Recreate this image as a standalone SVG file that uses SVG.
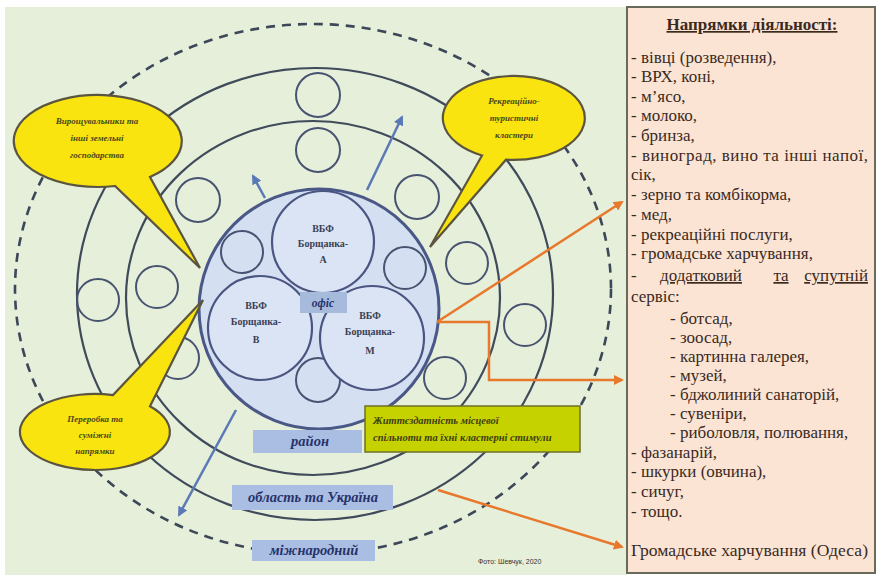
<svg xmlns="http://www.w3.org/2000/svg" width="878" height="579" viewBox="0 0 878 579">
<defs>
<marker id="ab" viewBox="0 0 10 10" refX="8" refY="5" markerWidth="4" markerHeight="4" orient="auto"><path d="M0,0 L10,5 L0,10 z" fill="#5b79b6"/></marker>
<marker id="ao" viewBox="0 0 10 10" refX="8" refY="5" markerWidth="4" markerHeight="4" orient="auto"><path d="M0,0 L10,5 L0,10 z" fill="#e7782c"/></marker>
<style>
.ring{fill:none;stroke:#3f4a5a;stroke-width:2.2}
.dash{fill:none;stroke:#3c4758;stroke-width:2.6;stroke-dasharray:9 7}
.sc{fill:none;stroke:#475370;stroke-width:2}
.ic{fill:#dbe4f4;stroke:#4a5582;stroke-width:2.2}
.call{fill:#f9e410;stroke:#5b5540;stroke-width:2.2}
.ct{font-family:"Liberation Serif",serif;font-style:italic;font-weight:bold;font-size:9px;fill:#4b4a18;text-anchor:middle}
.gt{font-family:"Liberation Serif",serif;font-style:italic;font-weight:bold;font-size:10.5px;fill:#3e4010}
.vt{font-family:"Liberation Serif",serif;font-weight:bold;font-size:10px;fill:#3a3f55;text-anchor:middle}
.lb{fill:#a9bee2}
.lt{font-family:"Liberation Serif",serif;font-style:italic;font-weight:bold;font-size:14.5px;fill:#27326a;text-anchor:middle}
.pt{font-family:"Liberation Serif",serif;font-size:17px;fill:#3a2a1e}
.blue{stroke:#5b79b6;stroke-width:2.5;fill:none;marker-end:url(#ab)}
.or{stroke:#e7782c;stroke-width:2.5;fill:none}
</style>
</defs>
<rect x="0" y="0" width="878" height="579" fill="#ffffff"/>
<rect x="5" y="7" width="622" height="568" fill="#e6efda"/>

<g id="rings">
<ellipse class="dash" cx="313" cy="289" rx="298" ry="265"/>
<ellipse class="ring" cx="315" cy="294" rx="238" ry="226"/>
<ellipse class="ring" cx="313" cy="298" rx="187" ry="177"/>
</g>

<g id="small-circles">
<circle class="sc" cx="318" cy="95" r="22"/>
<circle class="sc" cx="318" cy="150" r="22"/>
<circle class="sc" cx="98" cy="300" r="21"/>
<circle class="sc" cx="525" cy="325" r="21"/>
<circle class="sc" cx="198" cy="200" r="22"/>
<circle class="sc" cx="157" cy="287" r="21"/>
<circle class="sc" cx="178" cy="358" r="21"/>
<circle class="sc" cx="417" cy="197" r="22"/>
<circle class="sc" cx="467" cy="263" r="21"/>
<circle class="sc" cx="445" cy="378" r="21"/>
</g>

<g id="center">
<circle cx="319" cy="309" r="120" fill="#d4dff2" stroke="#4a5888" stroke-width="3"/>
<circle class="sc" cx="242" cy="252" r="21"/>
<circle class="sc" cx="405" cy="268" r="21"/>
<circle class="sc" cx="318" cy="380" r="22"/>
<g id="vbf-a"><circle class="ic" cx="323" cy="242" r="51"/>
<text class="vt" x="323" y="232">ВБФ</text><text class="vt" x="323" y="247">Борщанка-</text><text class="vt" x="323" y="263">А</text></g>
<g id="vbf-b"><circle class="ic" cx="260" cy="328" r="52"/>
<text class="vt" x="256" y="309">ВБФ</text><text class="vt" x="256" y="325">Борщанка-</text><text class="vt" x="256" y="343">В</text></g>
<g id="vbf-m"><circle class="ic" cx="372" cy="338" r="52"/>
<text class="vt" x="370" y="319">ВБФ</text><text class="vt" x="370" y="335">Борщанка-</text><text class="vt" x="370" y="354">М</text></g>
<g id="office"><rect x="300" y="292" width="47" height="21" fill="#a6badc"/>
<text class="lt" x="323" y="307" style="font-size:11.5px">офіс</text></g>
</g>

<g id="connectors">
<line class="blue" x1="265" y1="198" x2="253" y2="176"/>
<line class="blue" x1="367" y1="190" x2="402" y2="117"/>
<line class="blue" x1="236" y1="410" x2="179" y2="515"/>
<line class="or" x1="437" y1="322" x2="622" y2="202" marker-end="url(#ao)"/>
<polyline class="or" points="437,322 489,322 489,380 622,380" marker-end="url(#ao)"/>
<line class="or" x1="438" y1="490" x2="622" y2="547" marker-end="url(#ao)"/>
</g>

<g id="callout-1">
<path class="call" d="M150 177 A84 46 0 1 0 115 186 L200 268 Z"/>
<text class="ct" x="97" y="124">Вирощувальники та</text>
<text class="ct" x="97" y="141">інші земельні</text>
<text class="ct" x="97" y="158">господарства</text>
</g>
<g id="callout-2">
<path class="call" d="M506 159.7 A71 42 0 1 0 482 155.5 L430 247 Z"/>
<text class="ct" x="514" y="104">Рекреаційно-</text>
<text class="ct" x="514" y="121">туристичні</text>
<text class="ct" x="514" y="138">кластери</text>
</g>
<g id="callout-3">
<path class="call" d="M113 395.1 A75 38 0 1 0 150 406.2 L203 300 Z"/>
<text class="ct" x="95" y="422">Переробка та</text>
<text class="ct" x="95" y="438">суміжні</text>
<text class="ct" x="95" y="454">напрямки</text>
</g>

<g id="community">
<rect x="365" y="406" width="215" height="46" fill="#c6d200" stroke="#6d6f2a" stroke-width="1.5"/>
<text class="gt" x="373" y="424">Життєздатність місцевої</text>
<text class="gt" x="373" y="441">спільноти та їхні кластерні стимули</text>
</g>

<g id="raion"><rect class="lb" x="253" y="430" width="109" height="23"/><text class="lt" x="310" y="446">район</text></g>
<g id="oblast"><rect class="lb" x="232" y="485" width="161" height="25"/><text class="lt" x="313" y="502">область та Україна</text></g>
<g id="intl"><rect class="lb" x="252" y="540" width="123" height="21"/><text class="lt" x="314" y="555">міжнародний</text></g>
<text x="478" y="564" style="font-family:'Liberation Sans',sans-serif;font-size:7px;fill:#333">Фото: Шевчук, 2020</text>

<g id="panel">
<rect x="627" y="7" width="248" height="566" fill="#fbe4d4" stroke="#6a6a5a" stroke-width="2"/>
<text x="752" y="30" style="font-family:'Liberation Serif',serif;font-size:17px;font-weight:bold;fill:#3a2a1e;text-anchor:middle;text-decoration:underline">Напрямки діяльності:</text>
<text class="pt" x="631" y="63">- вівці (розведення),</text>
<text class="pt" x="631" y="82">- ВРХ, коні,</text>
<text class="pt" x="631" y="102">- м’ясо,</text>
<text class="pt" x="631" y="121">- молоко,</text>
<text class="pt" x="631" y="141">- бринза,</text>
<text class="pt" x="631" y="161" textLength="237" lengthAdjust="spacing">- виноград, вино та інші напої,</text>
<text class="pt" x="631" y="180">сік,</text>
<text class="pt" x="631" y="200">- зерно та комбікорма,</text>
<text class="pt" x="631" y="220">- мед,</text>
<text class="pt" x="631" y="240">- рекреаційні послуги,</text>
<text class="pt" x="631" y="259">- громадське харчування,</text>
<text class="pt" x="631" y="281">-</text>
<text class="pt" x="660" y="281" text-decoration="underline">додатковий</text>
<text class="pt" x="781" y="281" text-anchor="middle" text-decoration="underline">та</text>
<text class="pt" x="868" y="281" text-anchor="end" text-decoration="underline">супутній</text>
<text class="pt" x="631" y="302">сервіс:</text>
<text class="pt" x="670" y="324">- ботсад,</text>
<text class="pt" x="670" y="343">- зоосад,</text>
<text class="pt" x="670" y="362">- картинна галерея,</text>
<text class="pt" x="670" y="381">- музей,</text>
<text class="pt" x="670" y="400">- бджолиний санаторій,</text>
<text class="pt" x="670" y="419">- сувеніри,</text>
<text class="pt" x="670" y="438">- риболовля, полювання,</text>
<text class="pt" x="631" y="458">- фазанарій,</text>
<text class="pt" x="631" y="477">- шкурки (овчина),</text>
<text class="pt" x="631" y="497">- сичуг,</text>
<text class="pt" x="631" y="517">- тощо.</text>
<text class="pt" x="631" y="556" textLength="237" lengthAdjust="spacingAndGlyphs">Громадське харчування (Одеса)</text>
</g>
</svg>
